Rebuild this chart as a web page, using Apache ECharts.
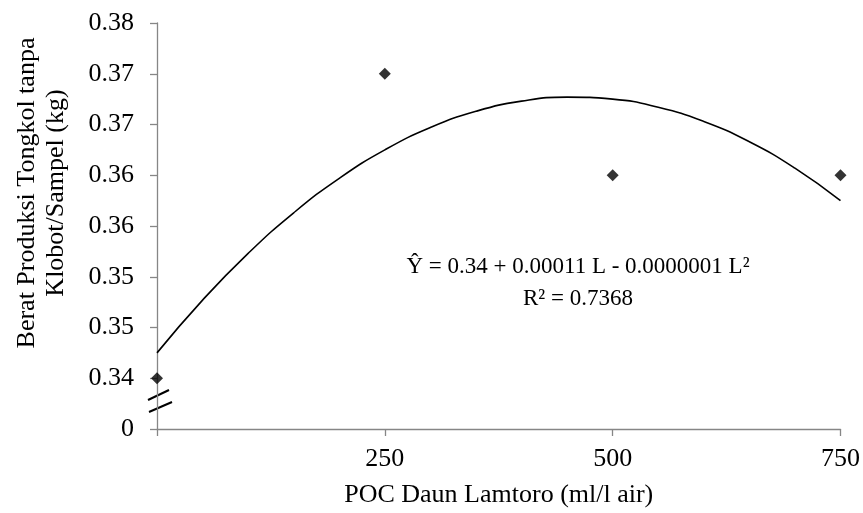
<!DOCTYPE html>
<html>
<head>
<meta charset="utf-8">
<script src="https://cdn.jsdelivr.net/npm/echarts@6/dist/echarts.min.js"></script>
<style>
  html, body { margin: 0; padding: 0; background: #fff; }
  #chart { width: 863px; height: 513px; }
</style>
</head>
<body>
<div id="chart"></div>
<script>
// observed points
const doses = [0, 250, 500, 750];
const weights = [0.34, 0.37, 0.36, 0.36];

// trend line (every 50 ml/l)
const trendX = [0, 50, 100, 150, 200, 250, 300, 350, 400, 450, 500, 550, 600, 650, 700, 750];
const trendY = [0.3425, 0.3477, 0.3523, 0.3563, 0.3597, 0.3625, 0.3647, 0.3663, 0.3673, 0.3677,
  0.3675, 0.3667, 0.3653, 0.3633, 0.3607, 0.3575];

// tick labels (the bottom one is the broken-axis zero)
const yTickLabels = ['0', '0.34', '0.35', '0.35', '0.36', '0.36', '0.37', '0.37', '0.38'];
const xTickLabels = ['', '250', '500', '750'];

const yMin = 0.335, yMax = 0.375, yStep = 0.005;
const font = 'Liberation Serif';
const axisGrey = '#868686';

const chart = echarts.init(document.getElementById('chart'));

chart.setOption({
  animation: false,
  grid: { left: 157, right: 21, top: 23, bottom: 83 },
  xAxis: {
    type: 'value',
    min: 0,
    max: 750,
    interval: 250,
    splitLine: { show: false },
    axisLine: { lineStyle: { color: axisGrey, width: 1.3 } },
    axisTick: { length: 7, lineStyle: { color: axisGrey, width: 1.3 } },
    axisLabel: {
      margin: 17,
      color: '#000',
      fontFamily: font,
      fontSize: 26,
      formatter: v => xTickLabels[Math.round(v / 250)] || ''
    },
    name: 'POC Daun Lamtoro (ml/l air)',
    nameLocation: 'middle',
    nameGap: 53,
    nameTextStyle: { color: '#000', fontFamily: font, fontSize: 26 }
  },
  yAxis: {
    type: 'value',
    min: yMin,
    max: yMax,
    interval: yStep,
    splitLine: { show: false },
    axisLine: { show: true, lineStyle: { color: axisGrey, width: 1.3 } },
    axisTick: { show: true, length: 7, lineStyle: { color: axisGrey, width: 1.3 } },
    axisLabel: {
      margin: 23,
      color: '#000',
      fontFamily: font,
      fontSize: 26,
      formatter: v => yTickLabels[Math.round((v - yMin) / yStep)] || ''
    }
  },
  series: [
    {
      type: 'line',
      data: trendX.map((x, i) => [x, trendY[i]]),
      smooth: true,
      showSymbol: false,
      lineStyle: { color: '#000', width: 1.6 },
      z: 2
    },
    {
      type: 'scatter',
      data: doses.map((x, i) => [x, weights[i]]),
      symbol: 'diamond',
      symbolSize: 12,
      itemStyle: { color: '#000' },
      z: 3
    }
  ],
  graphic: [
    {
      type: 'text',
      x: 13,
      y: 193,
      rotation: Math.PI / 2,
      style: {
        text: 'Berat Produksi Tongkol tanpa\nKlobot/Sampel (kg)',
        fill: '#000',
        font: '26px "Liberation Serif"',
        align: 'center',
        verticalAlign: 'top',
        lineHeight: 29
      }
    },
    {
      type: 'text',
      x: 578,
      y: 251,
      style: {
        text: 'Ŷ = 0.34 + 0.00011 L - 0.0000001 L²\nR² = 0.7368',
        fill: '#000',
        font: '23px "Liberation Serif"',
        align: 'center',
        verticalAlign: 'top',
        lineHeight: 32
      }
    },
    {
      type: 'line',
      shape: { x1: 148, y1: 400, x2: 169, y2: 390 },
      style: { stroke: '#000', lineWidth: 2 }
    },
    {
      type: 'line',
      shape: { x1: 149, y1: 412, x2: 172, y2: 402 },
      style: { stroke: '#000', lineWidth: 2 }
    }
  ]
});
</script>
</body>
</html>
